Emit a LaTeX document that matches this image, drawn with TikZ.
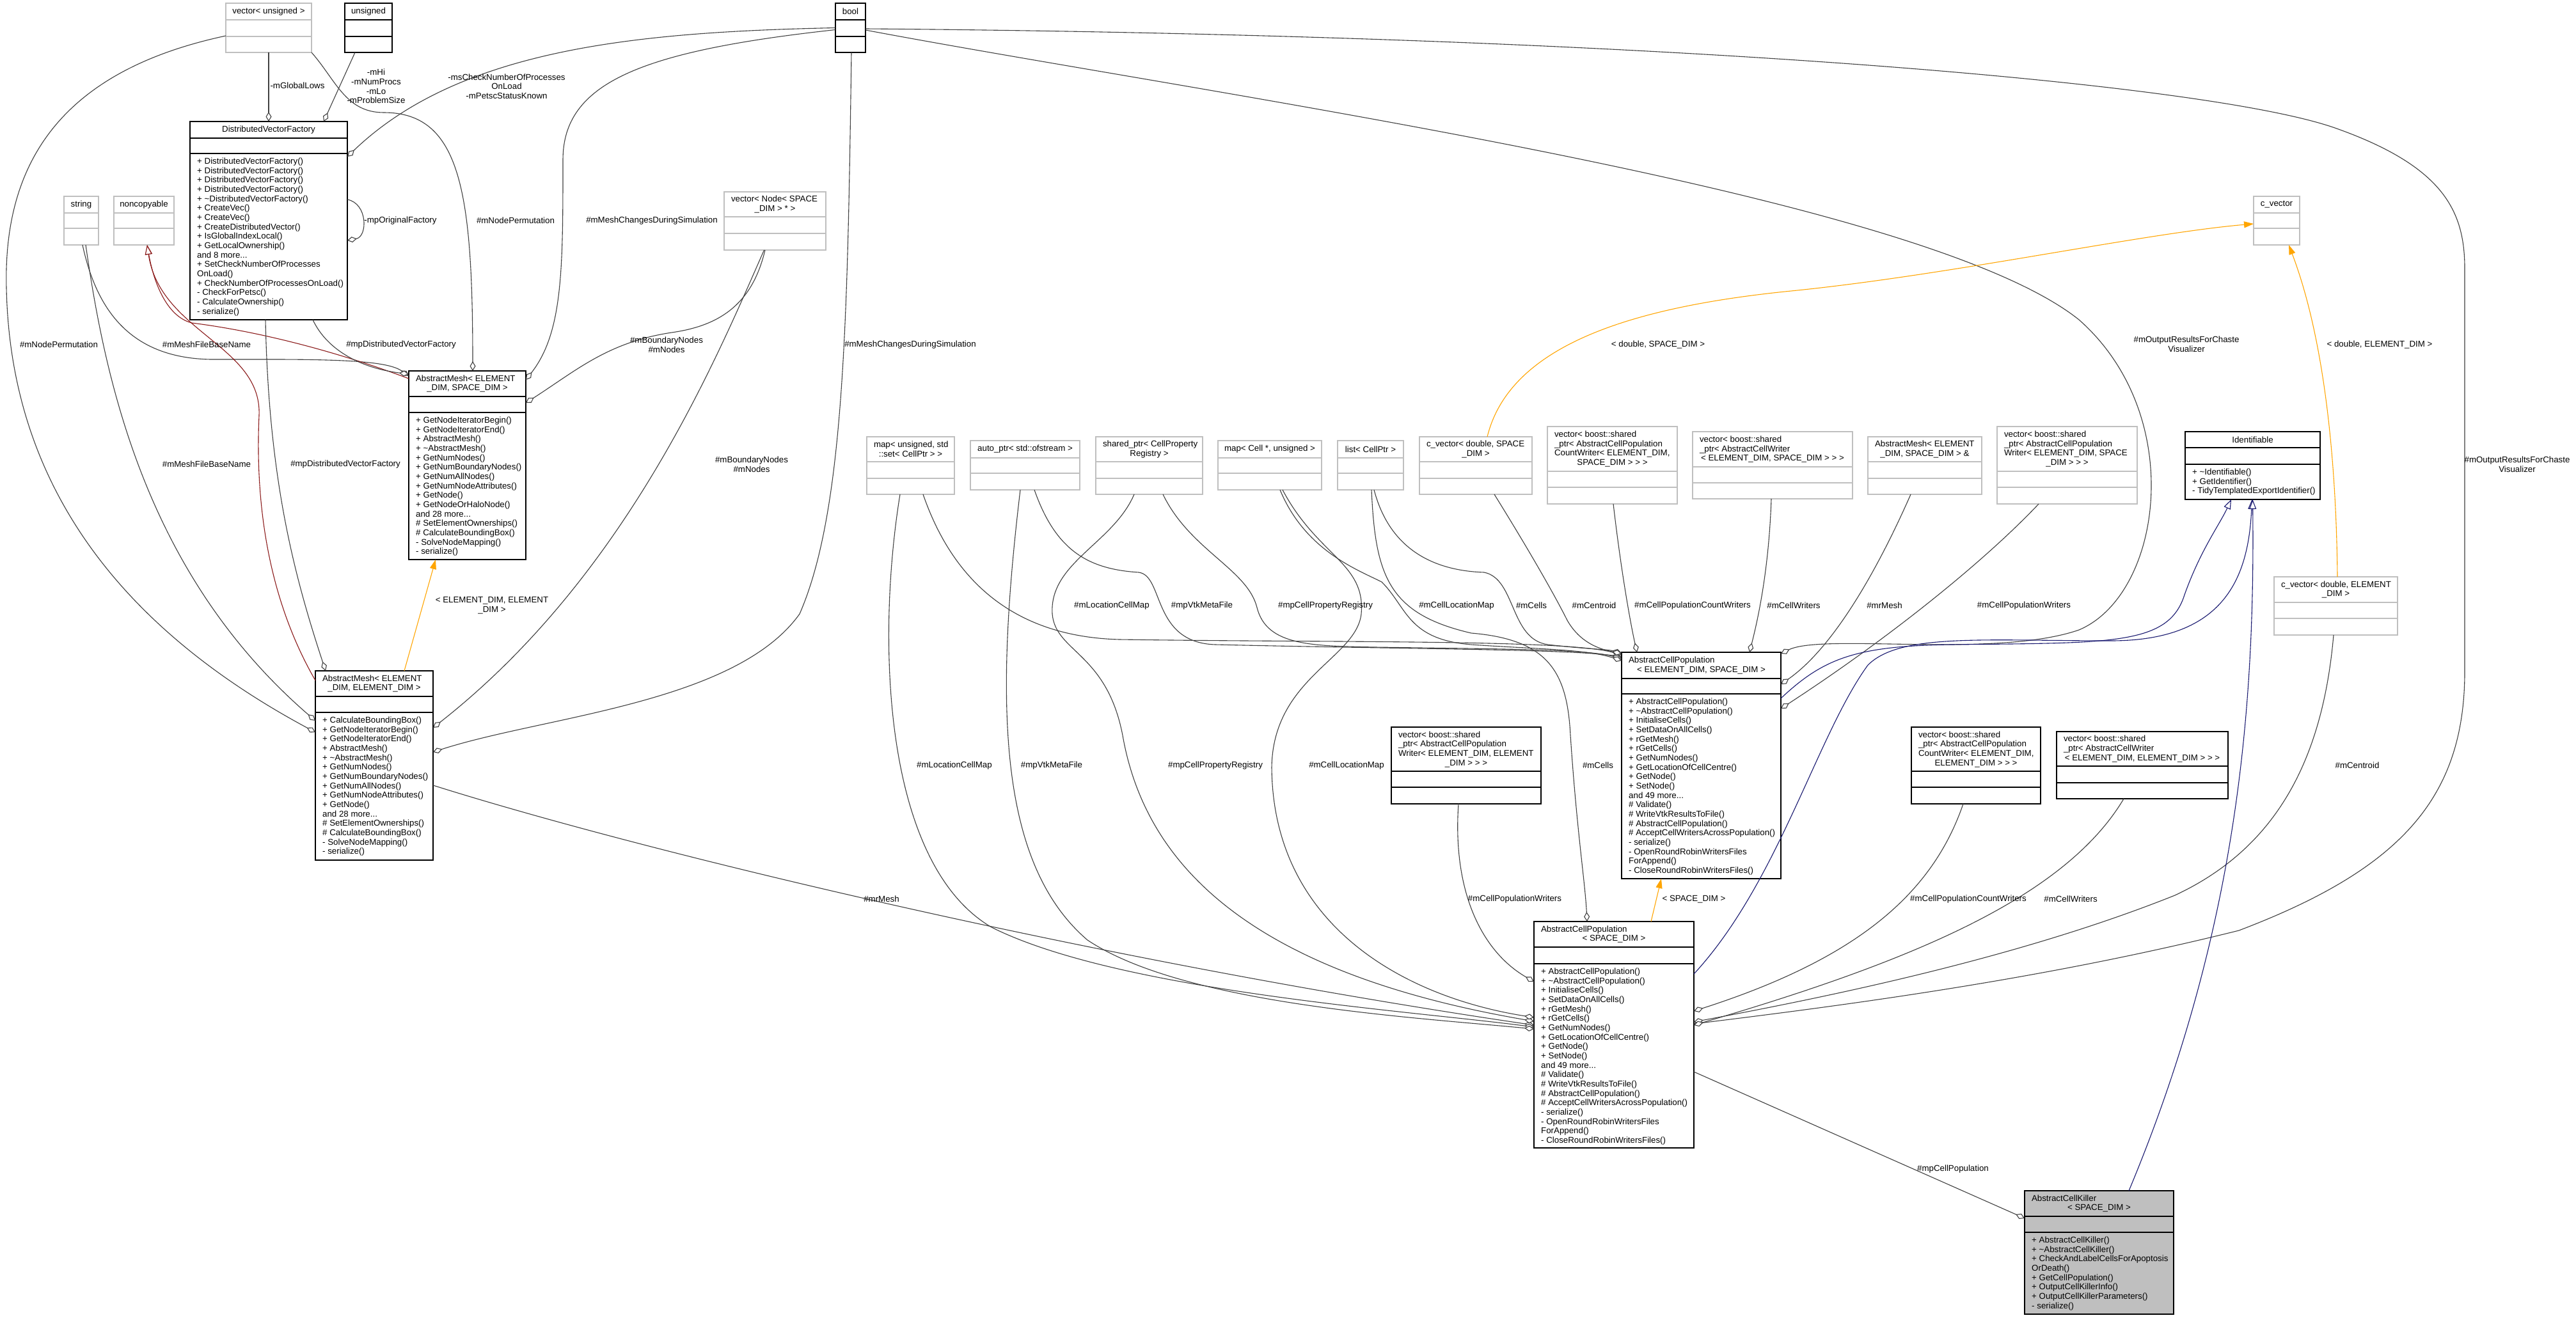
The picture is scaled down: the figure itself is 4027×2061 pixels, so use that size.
\documentclass[tikz,border=0pt]{standalone}
\usepackage{fontspec}
\setmainfont{Liberation Sans}
\usetikzlibrary{arrows.meta}

\definecolor{edgegray}{HTML}{404040}
\definecolor{grey75}{HTML}{BFBFBF}
\definecolor{inhblue}{HTML}{191970}
\definecolor{privred}{HTML}{8B1A1A}
\definecolor{tmplorange}{HTML}{FFA500}

\newcommand{\dgfont}{\fontsize{13.3}{14.67}\selectfont}
\newcommand{\lft}[1]{\makebox[\hdrw pt][l]{#1}}
% class box: name, style, x1, y1, x2, y2, header bottom, attribute bottom, header text
\newcommand{\umlclass}[9]{%
  \pgfmathsetmacro{\clsw}{#5-#3}%
  \pgfmathsetmacro{\clsh}{#6-#4}%
  \pgfmathsetmacro{\hdrw}{#5-#3-22}%
  \node[#2, minimum width=\clsw pt, minimum height=\clsh pt] (#1) at ({(#3+#5)/2},{(#4+#6)/2}) {};
  \draw[#2, fill=none] (#3,#7) -- (#5,#7) (#3,#8) -- (#5,#8);
  \node[classhead] (#1-name) at ({(#3+#5)/2},{(#4+#7)/2}) {#9};
}

\begin{document}
\begin{tikzpicture}[x=1pt,y=-1pt,
  intbox/.style={draw=black, line width=1.6pt, inner sep=0pt, outer sep=0pt},
  extbox/.style={draw=grey75, line width=1.6pt, inner sep=0pt, outer sep=0pt},
  focusbox/.style={intbox, fill=grey75},
  classhead/.style={font=\dgfont, align=center, inner sep=0pt},
  meth/.style={font=\dgfont, align=left, anchor=north west, inner sep=0pt},
  elabel/.style={font=\dgfont, align=center, inner sep=0pt},
  member/.style={draw=edgegray, line width=1.1pt, -{Diamond[fill=white, length=15pt, width=9pt]}},
  pubinh/.style={draw=inhblue, line width=1.1pt, -{Triangle[fill=white, length=15pt, width=11pt]}},
  privinh/.style={draw=privred, line width=1.1pt, -{Triangle[fill=white, length=15pt, width=11pt]}},
  tmpl/.style={draw=tmplorange, line width=1.1pt, -{Triangle[length=15pt, width=10pt]}}]
\fill[white] (0,0) rectangle (4027,2061);
\useasboundingbox (0,0) rectangle (4027,2061);

% classes
\umlclass{vu}{extbox}{353}{5}{487}{82}{31}{57}{vector< unsigned >}
\umlclass{uns}{intbox}{539}{5}{613}{82}{31}{57}{unsigned}
\umlclass{bool}{intbox}{1306}{5}{1353}{82}{31}{57}{bool}
\umlclass{dvf}{intbox}{297}{190}{543}{500}{216}{240}{DistributedVectorFactory}
\node[meth] (dvf-ops) at (308,246.5) {+ DistributedVectorFactory()\\+ DistributedVectorFactory()\\+ DistributedVectorFactory()\\+ DistributedVectorFactory()\\+ \textasciitilde{}DistributedVectorFactory()\\+ CreateVec()\\+ CreateVec()\\+ CreateDistributedVector()\\+ IsGlobalIndexLocal()\\+ GetLocalOwnership()\\and 8 more...\\+ SetCheckNumberOfProcesses\\OnLoad()\\+ CheckNumberOfProcessesOnLoad()\\- CheckForPetsc()\\- CalculateOwnership()\\- serialize()};
\umlclass{str}{extbox}{100}{307}{154}{383}{333}{357}{string}
\umlclass{nc}{extbox}{178}{307}{272}{383}{333}{357}{noncopyable}
\umlclass{vnode}{extbox}{1132}{300}{1291}{391}{339}{365}{\lft{vector< Node< SPACE}\\\_DIM > * >}
\umlclass{ams}{intbox}{639}{580}{822}{875}{620}{645}{\lft{AbstractMesh< ELEMENT}\\\_DIM, SPACE\_DIM >}
\node[meth] (ams-ops) at (650,651.5) {+ GetNodeIteratorBegin()\\+ GetNodeIteratorEnd()\\+ AbstractMesh()\\+ \textasciitilde{}AbstractMesh()\\+ GetNumNodes()\\+ GetNumBoundaryNodes()\\+ GetNumAllNodes()\\+ GetNumNodeAttributes()\\+ GetNode()\\+ GetNodeOrHaloNode()\\and 28 more...\\\# SetElementOwnerships()\\\# CalculateBoundingBox()\\- SolveNodeMapping()\\- serialize()};
\umlclass{ame}{intbox}{493}{1049}{677}{1345}{1089}{1114}{\lft{AbstractMesh< ELEMENT}\\\_DIM, ELEMENT\_DIM >}
\node[meth] (ame-ops) at (504,1120.5) {+ CalculateBoundingBox()\\+ GetNodeIteratorBegin()\\+ GetNodeIteratorEnd()\\+ AbstractMesh()\\+ \textasciitilde{}AbstractMesh()\\+ GetNumNodes()\\+ GetNumBoundaryNodes()\\+ GetNumAllNodes()\\+ GetNumNodeAttributes()\\+ GetNode()\\and 28 more...\\\# SetElementOwnerships()\\\# CalculateBoundingBox()\\- SolveNodeMapping()\\- serialize()};
\umlclass{mapu}{extbox}{1355}{683}{1492}{773}{722}{748}{\lft{map< unsigned, std}\\::set< CellPtr > >}
\umlclass{aptr}{extbox}{1517}{689}{1688}{766}{716}{740}{auto\_ptr< std::ofstream >}
\umlclass{sptr}{extbox}{1713}{683}{1880}{773}{722}{748}{\lft{shared\_ptr< CellProperty}\\Registry >}
\umlclass{mapc}{extbox}{1904}{689}{2066}{766}{716}{740}{map< Cell *, unsigned >}
\umlclass{list}{extbox}{2091}{689}{2194}{766}{716}{740}{list< CellPtr >}
\umlclass{cvs}{extbox}{2219}{683}{2395}{773}{722}{748}{\lft{c\_vector< double, SPACE}\\\_DIM >}
\umlclass{vcws}{extbox}{2419}{667}{2622}{788}{737}{762}{\lft{vector< boost::shared}\\\lft{\_ptr< AbstractCellPopulation}\\\lft{CountWriter< ELEMENT\_DIM,}\\SPACE\_DIM > > >}
\umlclass{vcw}{extbox}{2646}{675}{2896}{780}{730}{755}{\lft{vector< boost::shared}\\\lft{\_ptr< AbstractCellWriter}\\< ELEMENT\_DIM, SPACE\_DIM > > >}
\umlclass{amref}{extbox}{2920}{683}{3098}{773}{722}{748}{\lft{AbstractMesh< ELEMENT}\\\_DIM, SPACE\_DIM > \&}
\umlclass{vpws}{extbox}{3122}{667}{3341}{788}{737}{762}{\lft{vector< boost::shared}\\\lft{\_ptr< AbstractCellPopulation}\\\lft{Writer< ELEMENT\_DIM, SPACE}\\\_DIM > > >}
\umlclass{ident}{intbox}{3416}{675}{3627}{781}{700}{726}{Identifiable}
\node[meth] (ident-ops) at (3427,732.5) {+ \textasciitilde{}Identifiable()\\+ GetIdentifier()\\- TidyTemplatedExportIdentifier()};
\umlclass{cv}{extbox}{3523}{307}{3595}{383}{333}{357}{c\_vector}
\umlclass{cve}{extbox}{3555}{902}{3748}{993}{942}{967}{\lft{c\_vector< double, ELEMENT}\\\_DIM >}
\umlclass{acpes}{intbox}{2535}{1020}{2784}{1374}{1061}{1085}{\lft{AbstractCellPopulation}\\< ELEMENT\_DIM, SPACE\_DIM >}
\node[meth] (acpes-ops) at (2546,1091.5) {+ AbstractCellPopulation()\\+ \textasciitilde{}AbstractCellPopulation()\\+ InitialiseCells()\\+ SetDataOnAllCells()\\+ rGetMesh()\\+ rGetCells()\\+ GetNumNodes()\\+ GetLocationOfCellCentre()\\+ GetNode()\\+ SetNode()\\and 49 more...\\\# Validate()\\\# WriteVtkResultsToFile()\\\# AbstractCellPopulation()\\\# AcceptCellWritersAcrossPopulation()\\- serialize()\\- OpenRoundRobinWritersFiles\\ForAppend()\\- CloseRoundRobinWritersFiles()};
\umlclass{vpwe}{intbox}{2175}{1137}{2409}{1257}{1206}{1231}{\lft{vector< boost::shared}\\\lft{\_ptr< AbstractCellPopulation}\\\lft{Writer< ELEMENT\_DIM, ELEMENT}\\\_DIM > > >}
\umlclass{vcwe}{intbox}{2988}{1137}{3190}{1257}{1206}{1231}{\lft{vector< boost::shared}\\\lft{\_ptr< AbstractCellPopulation}\\\lft{CountWriter< ELEMENT\_DIM,}\\ELEMENT\_DIM > > >}
\umlclass{vcwee}{intbox}{3215}{1144}{3483}{1249}{1198}{1224}{\lft{vector< boost::shared}\\\lft{\_ptr< AbstractCellWriter}\\< ELEMENT\_DIM, ELEMENT\_DIM > > >}
\umlclass{acps}{intbox}{2398}{1441}{2648}{1795}{1481}{1507}{\lft{AbstractCellPopulation}\\< SPACE\_DIM >}
\node[meth] (acps-ops) at (2409,1513.5) {+ AbstractCellPopulation()\\+ \textasciitilde{}AbstractCellPopulation()\\+ InitialiseCells()\\+ SetDataOnAllCells()\\+ rGetMesh()\\+ rGetCells()\\+ GetNumNodes()\\+ GetLocationOfCellCentre()\\+ GetNode()\\+ SetNode()\\and 49 more...\\\# Validate()\\\# WriteVtkResultsToFile()\\\# AbstractCellPopulation()\\\# AcceptCellWritersAcrossPopulation()\\- serialize()\\- OpenRoundRobinWritersFiles\\ForAppend()\\- CloseRoundRobinWritersFiles()};
\umlclass{killer}{focusbox}{3165}{1862}{3398}{2055}{1902}{1927}{\lft{AbstractCellKiller}\\< SPACE\_DIM >}
\node[meth] (killer-ops) at (3176,1933.5) {+ AbstractCellKiller()\\+ \textasciitilde{}AbstractCellKiller()\\+ CheckAndLabelCellsForApoptosis\\OrDeath()\\+ GetCellPopulation()\\+ OutputCellKillerInfo()\\+ OutputCellKillerParameters()\\- serialize()};

% DistributedVectorFactory and meshes
\draw[member] (vu.south) -- (dvf.north);
\draw[member] ([xshift=-21pt]uns.south) -- ([xshift=86pt]dvf.north);
\draw[member] (bool.west) .. controls (1000,50) and (720,75) .. ([yshift=100pt]dvf.east);
\draw[member] ([yshift=33pt]dvf.east) .. controls (575,318) and (575,370) .. ([yshift=-31pt]dvf.east);
\draw[member] (vu.south east) .. controls (525,125) and (540,176) .. (600,176) .. controls (720,176) and (739,300) .. ([xshift=8.5pt]ams.north);
\draw[member] ([yshift=-12.5pt]vu.west) .. controls (100,110) and (5,250) .. (10,450) .. controls (15,700) and (130,950) .. ([yshift=52pt]ame.west);
\draw[member] ([xshift=2pt]str.south) .. controls (150,480) and (200,560) .. (330,562) .. controls (480,562) and (600,560) .. ([yshift=-8pt]ams.north west);
\draw[member] ([xshift=7pt]str.south) .. controls (165,600) and (230,900) .. ([yshift=70pt]ame.west);
\draw[privinh] ([yshift=-12pt]ams.north west) .. controls (500,540) and (380,515) .. (300,505) .. controls (260,495) and (240,440) .. ([xshift=5pt]nc.south);
\draw[privinh] ([yshift=-15pt]ame.north west) .. controls (410,920) and (400,760) .. (405,650) .. controls (410,540) and (250,520) .. ([xshift=5pt]nc.south);
\draw[member] ([xshift=69pt]dvf.south) .. controls (510,545) and (560,575) .. ([yshift=-5pt]ams.north west);
\draw[member] ([xshift=-5pt]dvf.south) .. controls (420,750) and (460,900) .. ([xshift=-76pt]ame.north);
\draw[member] ([yshift=-3pt]bool.west) .. controls (1000,80) and (880,130) .. (880,250) .. controls (880,420) and (880,520) .. ([yshift=-14pt]ams.north east);
\draw[member] ([xshift=1.5pt]bool.south) .. controls (1325,500) and (1320,800) .. (1250,960) .. controls (1150,1100) and (850,1120) .. ([yshift=21pt]ame.east);
\draw[member] ([xshift=-15.5pt]vnode.south) .. controls (1175,480) and (1120,510) .. (1050,520) .. controls (950,535) and (900,580) .. ([yshift=-50pt]ams.north east);
\draw[member] ([xshift=-17pt]vnode.south) .. controls (1120,560) and (980,900) .. ([yshift=59pt]ame.east);
\draw[tmpl] ([xshift=47pt]ame.north) -- ([xshift=-49.5pt]ams.south);

% AbstractCellPopulation< ELEMENT_DIM, SPACE_DIM >
\draw[member] ([xshift=19.5pt]mapu.south) .. controls (1480,880) and (1560,995) .. (1750,1000) .. controls (2100,1005) and (2450,1000) .. ([yshift=-4pt]acpes.north west);
\draw[member] ([xshift=14.5pt]aptr.south) .. controls (1650,860) and (1700,890) .. (1780,895) .. controls (1820,900) and (1800,1005) .. (1900,1008) .. controls (2200,1015) and (2450,1015) .. ([yshift=-7pt]acpes.north west);
\draw[member] ([xshift=21.5pt]sptr.south) .. controls (1860,860) and (1950,890) .. (1965,950) .. controls (1980,1010) and (2050,1010) .. (2150,1012) .. controls (2350,1015) and (2480,1015) .. ([yshift=-10pt]acpes.north west);
\draw[member] ([xshift=16pt]mapc.south) .. controls (2040,860) and (2120,890) .. (2160,910) .. controls (2200,950) and (2200,1000) .. (2300,1008) .. controls (2400,1015) and (2480,1015) .. ([yshift=-13pt]acpes.north west);
\draw[member] ([xshift=5.5pt]list.south) .. controls (2170,850) and (2230,892) .. (2320,895) .. controls (2370,905) and (2360,1000) .. (2420,1008) .. controls (2480,1015) and (2510,1015) .. ([yshift=-1pt]acpes.north west);
\draw[member] ([xshift=29pt]cvs.south) .. controls (2390,860) and (2430,930) .. (2450,970) .. controls (2470,1005) and (2500,1015) .. ([yshift=-2pt]acpes.north west);
\draw[member] ([xshift=1.5pt]vcws.south) .. controls (2535,900) and (2550,980) .. ([xshift=-100.5pt]acpes.north);
\draw[member] ([xshift=-2pt]vcw.south) .. controls (2765,900) and (2745,980) .. ([xshift=75.5pt]acpes.north);
\draw[member] ([xshift=-22pt]amref.south) .. controls (2940,880) and (2870,1010) .. ([yshift=127pt]acpes.east);
\draw[member] ([xshift=-44.5pt]vpws.south) .. controls (3100,880) and (2950,1000) .. ([yshift=89pt]acpes.east);
\draw[member] ([yshift=-3.5pt]bool.east) .. controls (1900,150) and (3000,300) .. (3250,500) .. controls (3420,650) and (3380,930) .. (3250,985) .. controls (3120,1030) and (2850,990) .. ([yshift=175pt]acpes.east);
\draw[tmpl] ([xshift=18pt]cvs.north) .. controls (2360,540) and (2550,480) .. (2800,455) .. controls (3050,430) and (3350,365) .. ([yshift=-5pt]cv.west);
\draw[tmpl] ([xshift=2.5pt]cve.north) .. controls (3652,700) and (3630,520) .. ([xshift=19pt]cv.south);
\draw[pubinh] ([yshift=105pt]acpes.east) .. controls (2850,1030) and (2900,1010) .. (3050,1008) .. controls (3300,1005) and (3390,1010) .. (3415,930) .. controls (3440,860) and (3470,820) .. ([xshift=-33.5pt]ident.south);

% AbstractCellPopulation< SPACE_DIM >
\draw[member] ([yshift=-31pt]ame.east) .. controls (1000,1330) and (1700,1500) .. ([yshift=15pt]acps.west);
\draw[member] ([xshift=-16.5pt]mapu.south) .. controls (1370,1000) and (1380,1350) .. (1550,1450) .. controls (1750,1550) and (2200,1580) .. ([yshift=12pt]acps.west);
\draw[member] ([xshift=-7.5pt]aptr.south) .. controls (1555,1100) and (1560,1350) .. (1700,1470) .. controls (1850,1570) and (2200,1590) .. ([yshift=9pt]acps.west);
\draw[member] ([xshift=-23.5pt]sptr.south) .. controls (1740,850) and (1640,880) .. (1645,960) .. controls (1650,1020) and (1730,1020) .. (1755,1150) .. controls (1790,1350) and (1950,1520) .. ([yshift=21pt]acps.west);
\draw[member] ([xshift=20pt]mapc.south) .. controls (2060,870) and (2135,880) .. (2128,960) .. controls (2120,1030) and (1990,1060) .. (1988,1200) .. controls (1990,1450) and (2200,1560) .. ([yshift=27pt]acps.west);
\draw[member] ([xshift=1.5pt]list.south) .. controls (2150,900) and (2170,960) .. (2300,990) .. controls (2420,1000) and (2450,1050) .. (2455,1150) .. controls (2465,1300) and (2478,1380) .. ([xshift=-42pt]acps.north);
\draw[member] ([xshift=-12pt]vpwe.south) .. controls (2270,1400) and (2320,1490) .. ([yshift=83pt]acps.west);
\draw[tmpl] ([xshift=58pt]acps.north) -- ([xshift=-62.5pt]acpes.south);
\draw[member] ([yshift=-1.5pt]bool.east) .. controls (2600,55) and (3450,130) .. (3650,200) .. controls (3820,260) and (3853,330) .. (3853,420) -- (3853,1050) .. controls (3853,1250) and (3750,1360) .. (3500,1455) .. controls (3200,1530) and (2900,1570) .. ([yshift=17pt]acps.east);
\draw[member] ([xshift=-3.5pt]cve.south) .. controls (3630,1200) and (3550,1330) .. (3400,1400) .. controls (3150,1500) and (2850,1560) .. ([yshift=20pt]acps.east);
\draw[member] ([xshift=-20pt]vcwe.south) .. controls (3020,1400) and (2900,1500) .. ([yshift=37pt]acps.east);
\draw[member] ([xshift=-29pt]vcwee.south) .. controls (3230,1400) and (3000,1500) .. ([yshift=15pt]acps.east);
\draw[pubinh] ([yshift=95pt]acps.east) .. controls (2780,1380) and (2840,1150) .. (2920,1040) .. controls (2970,990) and (3100,1002) .. (3300,1002) .. controls (3480,1002) and (3515,900) .. ([xshift=-1pt]ident.south);

% AbstractCellKiller
\draw[member] ([yshift=-58pt]acps.east) -- ([yshift=53.5pt]killer.west);
\draw[pubinh] ([xshift=46.5pt]killer.north) .. controls (3500,1450) and (3525,1100) .. (ident.south);

% labels
\node[elabel] (l-globallows) at (465,134) {-mGlobalLows};
\node[elabel] (l-hi) at (588,135) {-mHi\\-mNumProcs\\-mLo\\-mProblemSize};
\node[elabel] (l-check) at (792,135) {-msCheckNumberOfProcesses\\OnLoad\\-mPetscStatusKnown};
\node[elabel] (l-orig) at (626,345) {-mpOriginalFactory};
\node[elabel] (l-perm1) at (806,345) {\#mNodePermutation};
\node[elabel] (l-perm2) at (92,539) {\#mNodePermutation};
\node[elabel] (l-base1) at (323,539) {\#mMeshFileBaseName};
\node[elabel] (l-base2) at (323,726) {\#mMeshFileBaseName};
\node[elabel] (l-dvf1) at (627,539) {\#mpDistributedVectorFactory};
\node[elabel] (l-dvf2) at (540,726) {\#mpDistributedVectorFactory};
\node[elabel] (l-chg1) at (1019,345) {\#mMeshChangesDuringSimulation};
\node[elabel] (l-chg2) at (1423,539) {\#mMeshChangesDuringSimulation};
\node[elabel] (l-nodes1) at (1042,539) {\#mBoundaryNodes\\\#mNodes};
\node[elabel] (l-nodes2) at (1175,726) {\#mBoundaryNodes\\\#mNodes};
\node[elabel] (l-edim) at (769,947) {< ELEMENT\_DIM, ELEMENT\\\_DIM >};
\node[elabel] (l-loc1) at (1738,947) {\#mLocationCellMap};
\node[elabel] (l-vtk1) at (1879,947) {\#mpVtkMetaFile};
\node[elabel] (l-reg1) at (2072,947) {\#mpCellPropertyRegistry};
\node[elabel] (l-cloc1) at (2277,947) {\#mCellLocationMap};
\node[elabel] (l-cells1) at (2394,947) {\#mCells};
\node[elabel] (l-cent1) at (2492,947) {\#mCentroid};
\node[elabel] (l-cnt1) at (2646,947) {\#mCellPopulationCountWriters};
\node[elabel] (l-cw1) at (2804,947) {\#mCellWriters};
\node[elabel] (l-mesh1) at (2946,947) {\#mrMesh};
\node[elabel] (l-pw1) at (3164,947) {\#mCellPopulationWriters};
\node[elabel] (l-sdim) at (2592,539) {< double, SPACE\_DIM >};
\node[elabel] (l-out1) at (3418,538) {\#mOutputResultsForChaste\\Visualizer};
\node[elabel] (l-out2) at (3935,726) {\#mOutputResultsForChaste\\Visualizer};
\node[elabel] (l-edim2) at (3720,539) {< double, ELEMENT\_DIM >};
\node[elabel] (l-loc2) at (1492,1197) {\#mLocationCellMap};
\node[elabel] (l-vtk2) at (1644,1197) {\#mpVtkMetaFile};
\node[elabel] (l-reg2) at (1900,1197) {\#mpCellPropertyRegistry};
\node[elabel] (l-cloc2) at (2105,1197) {\#mCellLocationMap};
\node[elabel] (l-cells2) at (2498,1197) {\#mCells};
\node[elabel] (l-cent2) at (3685,1197) {\#mCentroid};
\node[elabel] (l-mesh2) at (1378,1406) {\#mrMesh};
\node[elabel] (l-pw2) at (2368,1406) {\#mCellPopulationWriters};
\node[elabel] (l-spc) at (2648,1406) {< SPACE\_DIM >};
\node[elabel] (l-cnt2) at (3077,1406) {\#mCellPopulationCountWriters};
\node[elabel] (l-cw2) at (3237,1406) {\#mCellWriters};
\node[elabel] (l-pop) at (3053,1828) {\#mpCellPopulation};
\end{tikzpicture}
\end{document}
